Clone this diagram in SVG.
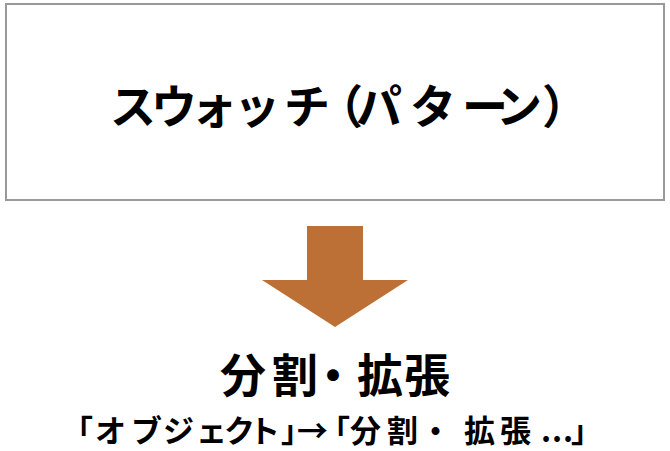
<svg xmlns="http://www.w3.org/2000/svg" width="670" height="451" viewBox="0 0 670 451">
<style>
.t{font-family:"Noto Sans CJK JP","Noto Sans",sans-serif;font-weight:700;fill:#000}
</style>
<rect width="670" height="451" fill="#fff"/>
<g id="swatch">
<rect x="6" y="4" width="658" height="196" fill="#fff" stroke="#999" stroke-width="2"/>
<text class="t" x="110 151 191 234 284 317 356 410 462 496 542" y="123" font-size="46">スウォッチ（パターン）</text>
</g>
<g id="connectors">
<polygon points="307,226 363,226 363,280 408,280 335,327 262,280 307,280" fill="#BD7035"/>
</g>
<g id="result">
<text class="t" x="220 272 310 357 404" y="392" font-size="46">分割・拡張</text>
<text class="t" x="62 95 131 163 196 224 249 281 297 319 350 387 420 464 500 534 541 552 563 571" y="442" font-size="31">「オブジェクト」→「分割・拡張 ...」</text>
</g>
</svg>
